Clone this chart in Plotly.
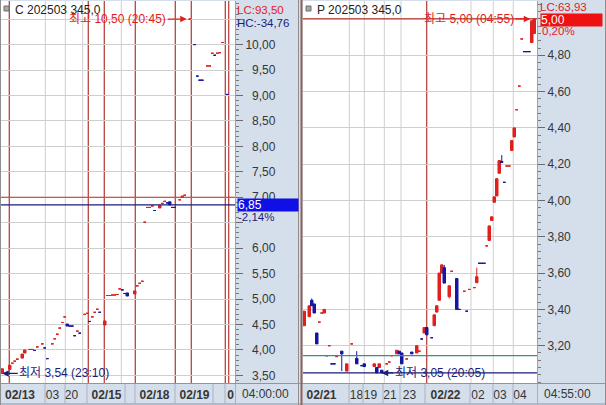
import plotly.graph_objects as go

# ---------------- data (x = time slot index within each panel) ----------------
LEFT_UP_X = [0, 3, 4, 5, 6, 8, 9, 11, 12, 14, 16, 20, 21, 22, 23, 24, 25, 30, 33, 34, 36, 37, 38, 41,
             42, 43, 44, 45, 46, 47, 53, 54, 55, 56, 57, 58, 59, 60, 63, 64, 65, 71, 72, 73, 75,
             82, 83, 84, 86, 87, 88]
LEFT_UP_O = [3.54, 3.62, 3.74, 3.78, 3.82, 3.84, 3.94, 4.01, 4.01, 4.06, 4.12, 4.12, 4.22, 4.31, 4.43,
             4.54, 4.65, 4.37, 4.70, 4.72, 4.65, 4.74, 4.80, 4.49, 5.07, 5.07, 5.08, 5.08, 5.09, 5.20,
             5.10, 5.26, 5.31, 5.35, 6.51, 6.80, 6.80, 6.83, 6.79, 6.88, 6.92, 6.95, 7.00, 7.04, 10.50,
             9.58, 9.58, 9.83, 9.83, 9.84, 10.04]
LEFT_UP_C = [3.63, 3.70, 3.74, 3.78, 3.82, 3.92, 4.00, 4.01, 4.01, 4.06, 4.12, 4.12, 4.22, 4.31, 4.43,
             4.54, 4.65, 4.37, 4.70, 4.72, 4.65, 4.74, 4.80, 4.57, 5.07, 5.07, 5.08, 5.08, 5.09, 5.20,
             5.16, 5.26, 5.31, 5.35, 6.51, 6.80, 6.80, 6.83, 6.84, 6.88, 6.92, 6.95, 7.02, 7.04, 10.50,
             9.58, 9.58, 9.83, 9.83, 9.84, 10.04]
LEFT_UP_H = LEFT_UP_C
LEFT_UP_L = LEFT_UP_O

LEFT_DN_X = [13, 17, 18, 26, 27, 28, 29, 31, 35, 39, 48, 49, 50, 61, 66, 67, 68, 69, 77, 78, 79, 80, 85, 90]
LEFT_DN_O = [3.99, 4.04, 3.83, 4.51, 4.47, 4.47, 4.28, 4.33, 4.56, 4.74, 5.18, 5.11, 5.12, 6.74, 6.89,
             6.91, 6.80, 6.80, 10.00, 9.38, 9.30, 9.30, 9.79, 9.02]
LEFT_DN_C = [3.99, 4.04, 3.83, 4.47, 4.47, 4.47, 4.28, 4.33, 4.56, 4.74, 5.18, 5.11, 5.06, 6.74, 6.89,
             6.85, 6.80, 6.80, 10.00, 9.38, 9.30, 9.30, 9.79, 9.02]
LEFT_DN_H = LEFT_DN_O
LEFT_DN_L = LEFT_DN_C

RIGHT_UP_X = [0, 2, 6, 7, 8, 10, 13, 17, 19, 28, 30, 33, 34, 35, 37, 41, 45, 46, 48, 52, 53, 54, 55,
              58, 59, 64, 66, 68, 69, 73, 74, 75, 76, 77, 78, 81, 82, 83, 84, 85, 86, 87, 91, 92]
RIGHT_UP_O = [3.31, 3.36, 3.33, 3.38, 3.38, 3.20, 3.14, 3.06, 3.21, 3.085, 3.08, 3.10, 3.11, 3.145,
              3.155, 3.127, 3.16, 3.17, 3.27, 3.31, 3.385, 3.45, 3.60, 3.47, 3.61, 3.50, 3.51, 3.52,
              3.547, 3.75, 3.78, 3.89, 3.99, 4.025, 4.15, 4.19, 4.19, 4.275, 4.35, 4.50, 4.63, 4.89,
              4.87, 4.92]
RIGHT_UP_C = [3.39, 3.42, 3.33, 3.38, 3.40, 3.20, 3.14, 3.10, 3.21, 3.10, 3.10, 3.10, 3.11, 3.145,
              3.175, 3.127, 3.20, 3.17, 3.30, 3.37, 3.42, 3.60, 3.645, 3.53, 3.61, 3.50, 3.51, 3.52,
              3.58, 3.75, 3.86, 3.91, 4.02, 4.12, 4.22, 4.19, 4.19, 4.33, 4.40, 4.50, 4.63, 4.89,
              4.99, 5.00]
RIGHT_UP_H = [3.39, 3.42, 3.33, 3.38, 3.40, 3.20, 3.14, 3.10, 3.21, 3.10, 3.10, 3.10, 3.11, 3.145,
              3.175, 3.127, 3.20, 3.17, 3.30, 3.37, 3.42, 3.60, 3.65, 3.53, 3.61, 3.50, 3.51, 3.52,
              3.63, 3.75, 3.86, 3.91, 4.02, 4.12, 4.22, 4.19, 4.19, 4.33, 4.40, 4.50, 4.63, 4.89,
              4.99, 5.00]
RIGHT_UP_L = [3.31, 3.36, 3.33, 3.38, 3.38, 3.20, 3.14, 3.06, 3.21, 3.085, 3.08, 3.10, 3.11, 3.145,
              3.155, 3.127, 3.16, 3.17, 3.27, 3.31, 3.385, 3.45, 3.60, 3.46, 3.61, 3.50, 3.51, 3.52,
              3.547, 3.75, 3.78, 3.89, 3.99, 4.025, 4.15, 4.19, 4.19, 4.275, 4.35, 4.50, 4.63, 4.89,
              4.87, 4.92]

RIGHT_DN_X = [3, 4, 5, 9, 11, 12, 15, 21, 23, 24, 29, 31, 38, 39, 43, 47, 49, 51, 56, 61, 62, 65,
              70, 71, 72, 79, 80, 88, 89, 90]
RIGHT_DN_O = [3.45, 3.43, 3.27, 3.145, 3.10, 3.10, 3.17, 3.13, 3.09, 3.10, 3.08, 3.065, 3.17, 3.16,
              3.165, 3.237, 3.30, 3.244, 3.63, 3.57, 3.40, 3.39, 3.654, 3.654, 3.654, 4.215, 4.10,
              4.82, 4.82, 4.82]
RIGHT_DN_C = [3.42, 3.38, 3.21, 3.145, 3.10, 3.10, 3.155, 3.10, 3.09, 3.085, 3.05, 3.05, 3.155, 3.10,
              3.155, 3.237, 3.26, 3.244, 3.545, 3.40, 3.40, 3.39, 3.654, 3.654, 3.654, 4.21, 4.10,
              4.82, 4.82, 4.82]
RIGHT_DN_H = [3.46, 3.43, 3.27, 3.145, 3.10, 3.10, 3.17, 3.17, 3.09, 3.10, 3.08, 3.065, 3.17, 3.16,
              3.165, 3.237, 3.30, 3.244, 3.645, 3.57, 3.40, 3.39, 3.654, 3.654, 3.654, 4.25, 4.10,
              4.82, 4.82, 4.82]
RIGHT_DN_L = [3.42, 3.38, 3.21, 3.145, 3.10, 3.10, 3.06, 3.10, 3.09, 3.085, 3.05, 3.05, 3.155, 3.10,
              3.155, 3.237, 3.26, 3.244, 3.545, 3.40, 3.40, 3.39, 3.654, 3.654, 3.654, 4.21, 4.10,
              4.82, 4.82, 4.82]

# session / hour boundaries (slot units)
LEFT_DAY_LINES = [2.82, 34.42, 40.82, 53.22, 69.22, 75.62, 89.22, 90.58]
LEFT_HOUR_LINES = [17.22, 25.22, 32.18, 47.62]
RIGHT_DAY_LINES = [48.98]
RIGHT_HOUR_LINES = [18.02, 24.02, 32.02, 38.7, 66.7, 75.6, 83.6]

LEFT_TICK_POS = [7.1, 20.1, 27.7, 41.7, 60.9, 76.9, 91.3]
LEFT_TICK_TEXT = ["<b>02/13</b>", "03", "20", "<b>02/15</b>", "<b>02/18</b>", "<b>02/19</b>", "<b>0</b>"]
RIGHT_TICK_POS = [6.9, 20.9, 26.5, 34.3, 42.1, 56.5, 69.5, 78.3, 86.3]
RIGHT_TICK_TEXT = ["<b>02/21</b>", "18", "19", "21", "23", "<b>02/22</b>", "02", "03", "04"]

LEFT_Y_TICKS = [3.5, 4.0, 4.5, 5.0, 5.5, 6.0, 6.5, 7.0, 7.5, 8.0, 8.5, 9.0, 9.5, 10.0, 10.5]
LEFT_Y_TEXT = ["\u20073,50", "\u20074,00", "\u20074,50", "\u20075,00", "\u20075,50", "\u20076,00", "",
               "\u20077,00", "\u20077,50", "\u20078,00", "\u20078,50", "\u20079,00", "\u20079,50", "10,00", ""]
RIGHT_Y_TICKS = [3.2, 3.4, 3.6, 3.8, 4.0, 4.2, 4.4, 4.6, 4.8, 5.0]
RIGHT_Y_TEXT = ["3,20", "3,40", "3,60", "3,80", "4,00", "4,20", "4,40", "4,60", "4,80", ""]

LEFT_PREV_CLOSE, LEFT_LAST = 7.00, 6.85
RIGHT_PREV_CLOSE, RIGHT_REF1, RIGHT_REF2 = 5.00, 3.145, 3.05

# ---------------- styling ----------------
W, H = 606, 405
AXIS_BG = "#d5dfec"
RED = "#e0201c"
BLUE = "#1616a2"
NAVY = "#1c1c7a"
DAYLINE = "#b8463f"
GRID = "#cfcfcf"
TXT = "#363636"
FONT = "Liberation Sans, Arial, Noto Sans CJK KR, sans-serif"
KFONT = "Liberation Sans, Noto Sans CJK KR, sans-serif"


def PX(p):
    return p / W


def PY(p):
    return 1 - p / H


PLOT_TOP, PLOT_BOT = 1, 383
L_X0, L_X1 = 1, 235
R_X0, R_X1 = 303, 537
SLOT_RANGE = [-0.5, 93.1]

fig = go.Figure()


def candles(xs, o, h, l, c, color, xa, ya):
    fig.add_trace(go.Candlestick(
        x=xs, open=o, high=h, low=l, close=c, xaxis=xa, yaxis=ya,
        increasing=dict(line=dict(color=color, width=1), fillcolor=color),
        decreasing=dict(line=dict(color=color, width=1), fillcolor=color),
        whiskerwidth=0, hoverinfo="skip", showlegend=False))


candles(LEFT_UP_X, LEFT_UP_O, LEFT_UP_H, LEFT_UP_L, LEFT_UP_C, RED, "x", "y")
candles(LEFT_DN_X, LEFT_DN_O, LEFT_DN_H, LEFT_DN_L, LEFT_DN_C, BLUE, "x", "y")
candles(RIGHT_UP_X, RIGHT_UP_O, RIGHT_UP_H, RIGHT_UP_L, RIGHT_UP_C, RED, "x2", "y2")
candles(RIGHT_DN_X, RIGHT_DN_O, RIGHT_DN_H, RIGHT_DN_L, RIGHT_DN_C, BLUE, "x2", "y2")

ydom = [PY(PLOT_BOT), PY(PLOT_TOP)]
xcommon = dict(range=SLOT_RANGE, showgrid=False, zeroline=False, rangeslider=dict(visible=False),
               tickmode="array", ticks="", showline=False, fixedrange=True, tickangle=0,
               ticklabelstandoff=3, tickfont=dict(family=FONT, size=12, color=TXT))
ycommon = dict(side="right", showgrid=True, gridcolor=GRID, gridwidth=1, zeroline=False,
               ticks="outside", ticklen=7, tickcolor="#6a6a6a", tickwidth=1,
               showline=True, linecolor="#9aa3b0", fixedrange=True,
               tickfont=dict(family=FONT, size=12, color=TXT), tickmode="array")

fig.update_layout(
    width=W, height=H, margin=dict(l=0, r=0, t=0, b=0, autoexpand=False),
    paper_bgcolor=AXIS_BG, plot_bgcolor="white", showlegend=False,
    separators=",.", boxgap=0, boxgroupgap=0,
    xaxis=dict(domain=[PX(L_X0), PX(L_X1)], anchor="y", tickvals=LEFT_TICK_POS,
               ticktext=LEFT_TICK_TEXT, **xcommon),
    xaxis2=dict(domain=[PX(R_X0), PX(R_X1)], anchor="y2", tickvals=RIGHT_TICK_POS,
                ticktext=RIGHT_TICK_TEXT, **xcommon),
    yaxis=dict(domain=ydom, anchor="x", range=[3.351, 10.856], tickvals=LEFT_Y_TICKS,
               ticktext=LEFT_Y_TEXT,
               minor=dict(tickmode="linear", tick0=0, dtick=0.1, ticks="outside", ticklen=3,
                          tickcolor="#7a7a7a", showgrid=False), **ycommon),
    yaxis2=dict(domain=ydom, anchor="x2", range=[2.9945, 5.099], tickvals=RIGHT_Y_TICKS,
                ticktext=RIGHT_Y_TEXT,
                minor=dict(tickmode="linear", tick0=0, dtick=0.04, ticks="outside", ticklen=3,
                           tickcolor="#7a7a7a", showgrid=False), **ycommon),
)

shapes = []
# hour grid lines and day separators
for v in LEFT_HOUR_LINES:
    shapes.append(dict(type="line", xref="x", yref="y domain", x0=v, x1=v, y0=0, y1=1,
                       line=dict(color=GRID, width=1), layer="below"))
for v in RIGHT_HOUR_LINES:
    shapes.append(dict(type="line", xref="x2", yref="y2 domain", x0=v, x1=v, y0=0, y1=1,
                       line=dict(color=GRID, width=1), layer="below"))
for v in LEFT_DAY_LINES:
    shapes.append(dict(type="line", xref="x", yref="y domain", x0=v, x1=v, y0=0, y1=1,
                       line=dict(color=DAYLINE, width=1.3), layer="below"))
for v in RIGHT_DAY_LINES:
    shapes.append(dict(type="line", xref="x2", yref="y2 domain", x0=v, x1=v, y0=0, y1=1,
                       line=dict(color=DAYLINE, width=1.3), layer="below"))
# reference price lines
for val, col, xa, ya in [(LEFT_PREV_CLOSE, "#c0302c", "x", "y"), (LEFT_LAST, NAVY, "x", "y"),
                         (RIGHT_PREV_CLOSE, "#c0302c", "x2", "y2"), (RIGHT_REF1, "#3a8f86", "x2", "y2"),
                         (RIGHT_REF2, NAVY, "x2", "y2")]:
    shapes.append(dict(type="line", xref=xa + " domain", yref=ya, x0=0, x1=1, y0=val, y1=val,
                       line=dict(color=col, width=1.2), layer="above"))


# frame lines, strip separators
def pline(x0, y0, x1, y1, color, width=1):
    shapes.append(dict(type="line", xref="paper", yref="paper", x0=PX(x0), x1=PX(x1),
                       y0=PY(y0), y1=PY(y1), line=dict(color=color, width=width)))


pline(0, 383.5, 606, 383.5, "#8e96a4")
pline(0, 404, 606, 404, "#8e96a4")
for xp in [45, 65, 87, 125, 135, 175, 213, 225, 235.5, 349, 363, 383, 400, 425, 470, 493, 513, 537.5]:
    pline(xp, 384, xp, 404, "#a7b1c0")
pline(0.5, 0, 0.5, 405, "#8e8e8e")
pline(298.5, 0, 298.5, 405, "#8e8e8e")
pline(301.5, 0, 301.5, 405, "#8f6259", 2)
pline(605.5, 0, 605.5, 405, "#8e8e8e")
# header icons
for x0 in [4, 306]:
    shapes.append(dict(type="rect", xref="paper", yref="paper", x0=PX(x0), x1=PX(x0 + 5),
                       y0=PY(11), y1=PY(6), fillcolor="#a8a8a8", line=dict(color="#6e6e6e", width=1)))

fig.update_layout(shapes=shapes)

ann = []


def text(xp, yp, s, color, size=12, xanchor="left", **kw):
    kw.setdefault("borderpad", 0)
    ann.append(dict(xref="paper", yref="paper", x=PX(xp), y=PY(yp), text=s, showarrow=False,
                    xanchor=xanchor, yanchor="middle", font=dict(family=FONT, size=size, color=color), **kw))


text(14, 10, "C 202503 345,0", "#222222")
text(316, 10, "P 202503 345,0", "#222222")
text(236, 9.5, "LC:93,50", RED, size=11.5)
text(236, 22.5, "HC:-34,76", NAVY, size=11.5)
text(237, 204.5, "6,85", "white", bgcolor="#1010e6", width=60, height=12, align="left")
text(237, 216.5, "-2,14%", NAVY, size=11.5)
text(539, 6.5, "LC:63,93", RED, size=11.5)
text(540, 19.5, "5,00", "white", bgcolor="#ee1111", width=61, height=12, align="left")
text(541, 31.5, "0,20%", RED, size=11.5)
text(265, 394, "04:00:00", TXT, xanchor="center")
text(567, 394, "04:55:00", TXT, xanchor="center")

# high / low markers tied to the data
lh_i = max(range(len(LEFT_UP_H)), key=lambda i: LEFT_UP_H[i])
ll_i = min(range(len(LEFT_UP_L)), key=lambda i: LEFT_UP_L[i])
rh_i = max(range(len(RIGHT_UP_H)), key=lambda i: (RIGHT_UP_H[i], RIGHT_UP_X[i]))
rl_i = max(range(len(RIGHT_DN_L)), key=lambda i: (-RIGHT_DN_L[i], RIGHT_DN_X[i]))

arrow_kw = dict(showarrow=True, arrowhead=2, arrowsize=1, arrowwidth=1.3, ay=0, axref="pixel", ayref="pixel")
ann.append(dict(xref="x", yref="y", x=LEFT_UP_X[lh_i], y=LEFT_UP_H[lh_i],
                text="최고 10,50 (20:45)", ax=-72, arrowcolor=RED, standoff=3,
                font=dict(family=KFONT, size=12, color=RED), **arrow_kw))
ann.append(dict(xref="x", yref="y", x=LEFT_UP_X[ll_i], y=LEFT_UP_L[ll_i],
                text="최저 3,54 (23:10)", ax=62, arrowcolor=NAVY, standoff=0,
                font=dict(family=KFONT, size=12, color=NAVY), **arrow_kw))
ann.append(dict(xref="x2", yref="y2", x=RIGHT_UP_X[rh_i], y=RIGHT_UP_H[rh_i],
                text="최고 5,00 (04:55)", ax=-65, arrowcolor=RED, standoff=4,
                font=dict(family=KFONT, size=12, color=RED), **arrow_kw))
ann.append(dict(xref="x2", yref="y2", x=RIGHT_DN_X[rl_i], y=RIGHT_DN_L[rl_i],
                text="최저 3,05 (20:05)", ax=58, arrowcolor=NAVY, standoff=0,
                font=dict(family=KFONT, size=12, color=NAVY), **arrow_kw))

fig.update_layout(annotations=ann)
fig.write_html("out.html", config={"displayModeBar": False, "staticPlot": True},
               post_script="document.body.style.margin='0';document.body.style.padding='0';")
